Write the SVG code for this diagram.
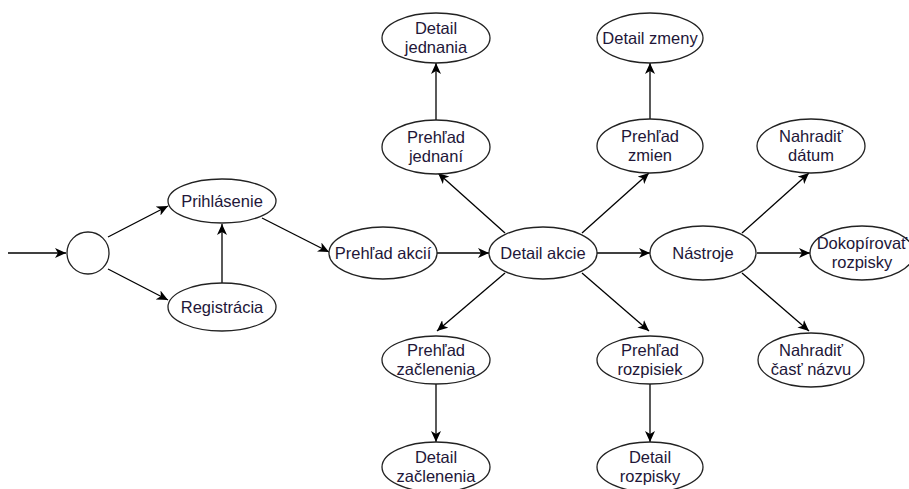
<svg xmlns="http://www.w3.org/2000/svg" width="909" height="489" viewBox="0 0 909 489">
<style>
.n{fill:#fff;stroke:#222;stroke-width:1.3}
.t{font-family:"Liberation Sans",Arial,sans-serif;font-size:16.5px;fill:#221638;text-anchor:middle}
.c line{stroke:#000;stroke-width:1.3;marker-end:url(#a)}
</style>
<defs>
<marker id="a" markerUnits="userSpaceOnUse" markerWidth="12" markerHeight="10" refX="11" refY="5" orient="auto">
<path d="M0,0 L11,5 L0,10 L3,5 z" fill="#000"/>
</marker>
</defs>
<rect width="909" height="489" fill="#fff"/>
<g class="c" id="connectors">
<line x1="8" y1="253" x2="66" y2="253"/>
<line x1="108" y1="237" x2="168" y2="206"/>
<line x1="108" y1="269" x2="168" y2="300"/>
<line x1="222" y1="283" x2="222" y2="224"/>
<line x1="262" y1="218" x2="329" y2="252"/>
<line x1="437" y1="253" x2="489" y2="253"/>
<line x1="505" y1="233" x2="438" y2="173"/>
<line x1="582" y1="233" x2="649" y2="173"/>
<line x1="597" y1="253" x2="650" y2="253"/>
<line x1="505" y1="273" x2="437" y2="331"/>
<line x1="582" y1="273" x2="649" y2="331"/>
<line x1="436" y1="120" x2="436" y2="63"/>
<line x1="650" y1="119" x2="650" y2="63"/>
<line x1="436" y1="384" x2="436" y2="442"/>
<line x1="650" y1="384" x2="650" y2="442"/>
<line x1="742" y1="233" x2="809" y2="173"/>
<line x1="757" y1="253" x2="810" y2="253"/>
<line x1="742" y1="273" x2="809" y2="331"/>
</g>
<g id="start"><circle class="n" cx="88" cy="253" r="21"/></g>
<g id="prihlasenie"><ellipse class="n" cx="222" cy="201" rx="54" ry="22"/><text class="t" x="222" y="207">Prihlásenie</text></g>
<g id="registracia"><ellipse class="n" cx="222" cy="307" rx="54" ry="24"/><text class="t" x="222" y="313">Registrácia</text></g>
<g id="prehlad-akcii"><ellipse class="n" cx="383" cy="253" rx="54" ry="26"/><text class="t" x="383" y="259">Prehľad akcií</text></g>
<g id="detail-akcie"><ellipse class="n" cx="543" cy="253" rx="54" ry="26"/><text class="t" x="543" y="259">Detail akcie</text></g>
<g id="prehlad-jednani"><ellipse class="n" cx="436" cy="147" rx="54" ry="27"/><text class="t" x="436" y="143">Prehľad</text><text class="t" x="436" y="162">jednaní</text></g>
<g id="detail-jednania"><ellipse class="n" cx="436" cy="38" rx="54" ry="25"/><text class="t" x="436" y="34">Detail</text><text class="t" x="436" y="53">jednania</text></g>
<g id="prehlad-zmien"><ellipse class="n" cx="650" cy="146" rx="53" ry="27"/><text class="t" x="650" y="142">Prehľad</text><text class="t" x="650" y="161">zmien</text></g>
<g id="detail-zmeny"><ellipse class="n" cx="650" cy="38" rx="53" ry="25"/><text class="t" x="650" y="44">Detail zmeny</text></g>
<g id="nastroje"><ellipse class="n" cx="703" cy="253" rx="53" ry="27"/><text class="t" x="703" y="259">Nástroje</text></g>
<g id="nahradit-datum"><ellipse class="n" cx="811" cy="146" rx="54" ry="27"/><text class="t" x="811" y="142">Nahradiť</text><text class="t" x="811" y="161">dátum</text></g>
<g id="dokopirovat"><ellipse class="n" cx="862" cy="253" rx="52" ry="27"/><text class="t" x="862" y="249">Dokopírovať</text><text class="t" x="862" y="268">rozpisky</text></g>
<g id="nahradit-cast"><ellipse class="n" cx="811" cy="360" rx="53" ry="27"/><text class="t" x="811" y="356">Nahradiť</text><text class="t" x="811" y="375">časť názvu</text></g>
<g id="prehlad-zaclenenia"><ellipse class="n" cx="436" cy="360" rx="54" ry="24"/><text class="t" x="436" y="356">Prehľad</text><text class="t" x="436" y="375">začlenenia</text></g>
<g id="detail-zaclenenia"><ellipse class="n" cx="436" cy="467" rx="54" ry="25"/><text class="t" x="436" y="463">Detail</text><text class="t" x="436" y="482">začlenenia</text></g>
<g id="prehlad-rozpisiek"><ellipse class="n" cx="650" cy="360" rx="53" ry="24"/><text class="t" x="650" y="356">Prehľad</text><text class="t" x="650" y="375">rozpisiek</text></g>
<g id="detail-rozpisky"><ellipse class="n" cx="650" cy="467" rx="53" ry="25"/><text class="t" x="650" y="463">Detail</text><text class="t" x="650" y="482">rozpisky</text></g>
</svg>
